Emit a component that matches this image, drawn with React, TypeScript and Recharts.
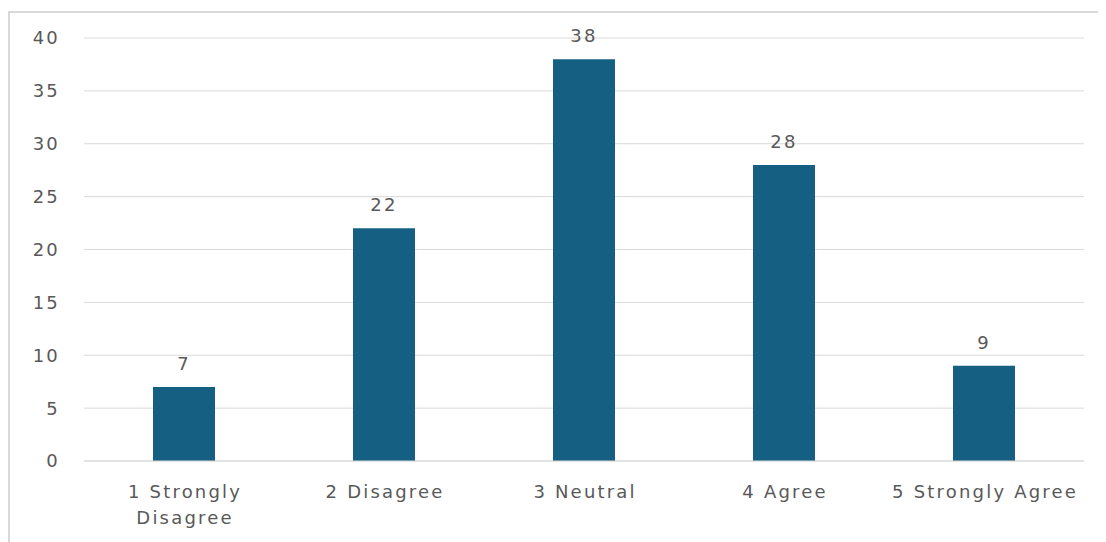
import { BarChart, Bar, XAxis, YAxis, CartesianGrid, LabelList } from 'recharts';

const categories = ['1 Strongly Disagree', '2 Disagree', '3 Neutral', '4 Agree', '5 Strongly Agree'];
const counts = [7, 22, 38, 28, 9];
const yTicks = [0, 5, 10, 15, 20, 25, 30, 35, 40];

const data = categories.map((name, i) => ({ name, value: counts[i] }));

const FONT = '"DejaVu Sans", "Open Sans", sans-serif';
const TEXT = '#595959';
const SPACING = 2.2;

// wraps long category names onto two lines, like the original
function CategoryTick(props: any) {
    const { x, y, payload } = props;
    const label: string = payload.value;
    let lines = [label];
    if (label.length > 17) {
        const cut = label.lastIndexOf(' ');
        lines = [label.slice(0, cut), label.slice(cut + 1)];
    }
    return (
        <text
            x={x}
            y={y}
            textAnchor="middle"
            fill={TEXT}
            fontSize={18}
            fontFamily={FONT}
            letterSpacing={SPACING}
        >
            {lines.map((l, i) => (
                <tspan key={i} x={x + SPACING / 2} dy={i === 0 ? 29 : 26}>{l}</tspan>
            ))}
        </text>
    );
}

export default function App() {
    return (
        <div style={{ position: 'relative', width: 1098, height: 534, overflow: 'hidden' }}>
            <div
                style={{
                    position: 'absolute',
                    left: 0,
                    top: 3,
                    width: 1200,
                    height: 700,
                    borderLeft: '2px solid #d9d9d9',
                    borderTop: '2px solid #d9d9d9',
                }}
            />
            <div style={{ position: 'absolute', left: 0, top: 0 }}>
                <BarChart
                    width={1098}
                    height={534}
                    data={data}
                    margin={{ top: 30, right: 22, left: 16, bottom: 21 }}
                    barCategoryGap={0}
                >
                    <CartesianGrid vertical={false} stroke="#d9d9d9" />
                    <XAxis
                        dataKey="name"
                        interval={0}
                        tickLine={false}
                        axisLine={{ stroke: '#d9d9d9' }}
                        height={60}
                        tick={<CategoryTick />}
                    />
                    <YAxis
                        width={60}
                        domain={[0, 40]}
                        ticks={yTicks}
                        axisLine={false}
                        tickLine={false}
                        tickSize={0}
                        tickMargin={24}
                        tick={{ fill: TEXT, fontSize: 18, fontFamily: FONT, letterSpacing: SPACING }}
                    />
                    <Bar dataKey="value" fill="#156082" barSize={62} isAnimationActive={false}>
                        <LabelList
                            dataKey="value"
                            position="top"
                            offset={17}
                            fill={TEXT}
                            fontSize={18}
                            fontFamily={FONT}
                            letterSpacing={SPACING}
                        />
                    </Bar>
                </BarChart>
            </div>
        </div>
    );
}
